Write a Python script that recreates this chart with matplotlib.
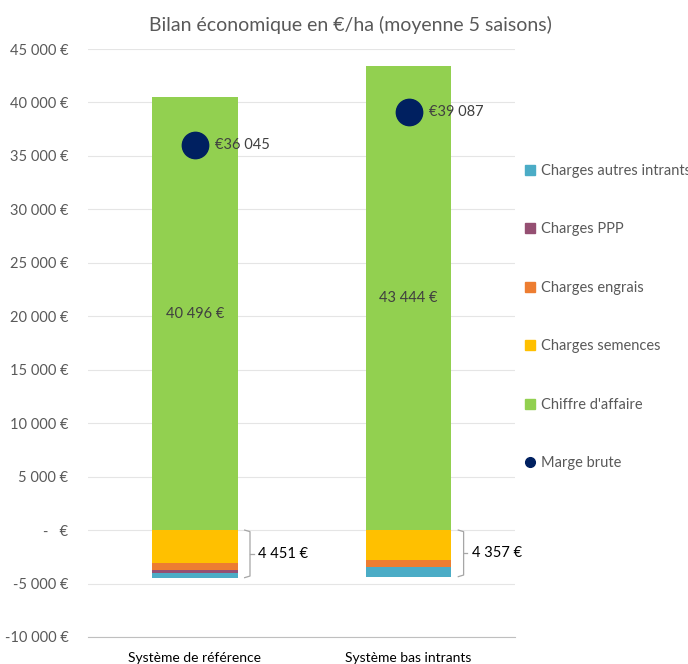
import numpy as np
import matplotlib.pyplot as plt
from matplotlib.lines import Line2D
from matplotlib.patches import Patch

plt.rcParams['font.family'] = ['Lato', 'DejaVu Sans']

# données
systemes = ["Système de référence", "Système bas intrants"]
chiffre_affaire = [40496, 43444]
charges_semences = [3090, 2800]
charges_engrais = [660, 650]
charges_ppp = [230, 50]
charges_autres = [471, 857]
charges_totales = [4451, 4357]
marge_brute = [36045, 39087]

c_ca = '#92D050'
c_sem = '#FFC000'
c_eng = '#ED7D31'
c_ppp = '#954F72'
c_aut = '#4BACC6'
c_mb = '#002060'
gris = '#595959'

fig = plt.figure(figsize=(6.88, 6.64), dpi=100)
ax = fig.add_axes([0.128, 0.0407, 0.621, 0.8855])

x = np.arange(len(systemes))
w = 0.40

ax.bar(x, chiffre_affaire, w, color=c_ca, zorder=2)
# charges empilées vers le bas
bas = np.zeros(len(x))
for vals, col in [(charges_semences, c_sem), (charges_engrais, c_eng),
                  (charges_ppp, c_ppp), (charges_autres, c_aut)]:
    v = -np.array(vals, dtype=float)
    ax.bar(x, v, w, bottom=bas, color=col, zorder=2)
    bas = bas + v

ax.scatter(x, marge_brute, s=360, color=c_mb, zorder=4)
for i in x:
    ax.text(i + 0.095, marge_brute[i], f"€{marge_brute[i]:,}".replace(",", " "),
            va='center', ha='left', fontsize=10.5, color='#404040', zorder=5)
    ax.text(i, chiffre_affaire[i] / 2, f"{chiffre_affaire[i]:,} €".replace(",", " "),
            va='center', ha='center', fontsize=10.5, color='#404040', zorder=5)
    # accolade des charges
    bx = i + 0.258
    top, bot = 0, -charges_totales[i]
    mid = (top + bot) / 2
    ax.plot([bx - 0.025, bx, bx, bx - 0.025], [top, top - 150, bot + 150, bot],
            color='#A6A6A6', lw=0.9, zorder=3, clip_on=False)
    ax.plot([bx, bx + 0.018], [mid, mid], color='#A6A6A6', lw=0.9, zorder=3)
    ax.text(bx + 0.037, mid, f"{charges_totales[i]:,} €".replace(",", " "),
            va='center', ha='left', fontsize=10.5, color='black')

ax.set_xlim(-0.5, 1.5)
ax.set_ylim(-10000, 45000)
ticks = np.arange(-10000, 45001, 5000)
ax.set_yticks(ticks)
labels = []
for t in ticks:
    if t == 0:
        labels.append("-   €")
    else:
        labels.append(f"{t:,} €".replace(",", " "))
ax.set_yticklabels(labels, fontsize=10.5, color=gris)
ax.set_xticks(x)
ax.set_xticklabels(systemes, fontsize=10.5, color=gris)
ax.tick_params(axis='x', length=0, pad=11)
ax.tick_params(axis='y', length=0, pad=14)
ax.grid(axis='y', color='#E5E5E5', lw=0.8, zorder=0)
for s in ['top', 'right', 'left']:
    ax.spines[s].set_visible(False)
ax.spines['bottom'].set_color('#BFBFBF')
ax.spines['bottom'].set_position(('data', -10000))

fig.text(0.51, 0.962, "Bilan économique en €/ha (moyenne 5 saisons)",
         ha='center', va='center', fontsize=14, color=gris)

handles = [
    Patch(color=c_aut, label="Charges autres intrants"),
    Patch(color=c_ppp, label="Charges PPP"),
    Patch(color=c_eng, label="Charges engrais"),
    Patch(color=c_sem, label="Charges semences"),
    Patch(color=c_ca, label="Chiffre d'affaire"),
    Line2D([], [], marker='o', ls='', color=c_mb, markersize=7, label="Marge brute"),
]
leg = fig.legend(handles=handles, loc='upper left', bbox_to_anchor=(0.755, 0.762),
                 frameon=False, fontsize=10.5, labelspacing=3.05, handlelength=0.7,
                 handleheight=0.7, handletextpad=0.35, borderaxespad=0)
for t in leg.get_texts():
    t.set_color(gris)

fig.savefig("out.png", dpi=100)
